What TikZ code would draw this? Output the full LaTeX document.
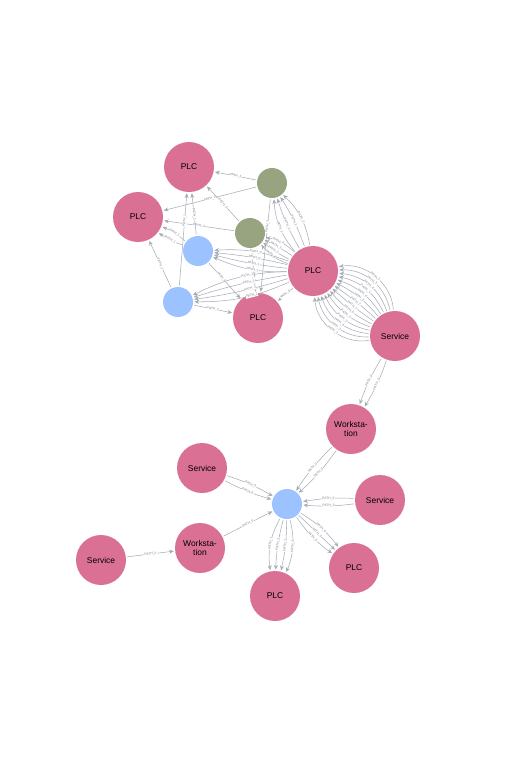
\documentclass[tikz,border=0pt]{standalone}
\usepackage{fontspec}
\setmainfont{Liberation Sans}
\usepackage{xcolor}
\usepackage{tikz}
\usetikzlibrary{arrows.meta}
\definecolor{nodepink}{HTML}{DA7194}
\definecolor{hostblue}{HTML}{9CC3FF}
\definecolor{zonegreen}{HTML}{98A37F}
\definecolor{relgray}{HTML}{A5ABB6}
\definecolor{taggray}{HTML}{7E838C}
\newcommand{\pathlbl}[1]{PATH\_#1}

\begin{document}
\begin{tikzpicture}[x=0.03cm, y=-0.03cm, font=\fontsize{7.2}{7.6}\selectfont, plc/.style={circle, fill=nodepink, minimum size=1.5cm, inner sep=0pt, align=center}, host/.style={circle, fill=hostblue, minimum size=0.9cm, inner sep=0pt}, zone/.style={circle, fill=zonegreen, minimum size=0.9cm, inner sep=0pt}, rel/.style={-{Stealth[length=4pt, width=3.4pt]}, draw=relgray, line width=0.45pt, shorten >=1pt, shorten <=1pt}, tag/.style={font=\fontsize{2.8}{3}\selectfont, text=taggray, sloped, midway, fill=white, inner sep=0.3pt}]
\useasboundingbox (0,0) rectangle (507,777);
% upper cluster
\node[plc] (plcA) at (189,167) {PLC};
\node[plc] (plcB) at (138,217) {PLC};
\node[plc] (plcC) at (313,271) {PLC};
\node[plc] (plcD) at (258,318) {PLC};
\node[zone] (zoneA) at (272,183) {};
\node[zone] (zoneB) at (250,233) {};
\node[host] (hostA) at (198,251) {};
\node[host] (hostB) at (178,302) {};
\node[plc] (svcA) at (395,336) {Service};
\node[plc] (wsA) at (351,429) {Worksta-\\tion};
% lower cluster
\node[host] (hostC) at (287,504) {};
\node[plc] (svcB) at (202,468) {Service};
\node[plc] (svcC) at (380,500) {Service};
\node[plc] (wsB) at (200,548) {Worksta-\\tion};
\node[plc] (svcD) at (101,560) {Service};
\node[plc] (plcE) at (275,596) {PLC};
\node[plc] (plcF) at (354,568) {PLC};

\draw[rel] (zoneA) -- node[tag] {\pathlbl{3}} (plcA);
\draw[rel] (zoneA) -- node[tag] {\pathlbl{3}} (plcB);
\draw[rel] (zoneA) -- node[tag, pos=0.3] {\pathlbl{3}} (plcD);
\draw[rel] (zoneB) -- node[tag] {\pathlbl{3}} (plcA);
\draw[rel] (zoneB) -- node[tag] {\pathlbl{3}} (plcB);
\draw[rel] (zoneB) -- node[tag, pos=0.6] {\pathlbl{3}} (plcD);
\draw[rel] (hostA) -- node[tag] {\pathlbl{1}} (plcA);
\foreach \b in {-8,8}
  \draw[rel] (hostA) to[bend left=\b] node[tag] {\pathlbl{1}} (plcB);
\draw[rel] (hostA) -- node[tag, pos=0.4] {\pathlbl{2}} (plcD);
\draw[rel] (hostB) -- node[tag, pos=0.7] {\pathlbl{1}} (plcA);
\draw[rel] (hostB) -- node[tag] {\pathlbl{1}} (plcB);
\draw[rel] (hostB) -- node[tag] {\pathlbl{2}} (plcD);
\foreach \b/\n in {-18/2,-6/1,6/2,18/1}
  \draw[rel] (plcC) to[bend left=\b] node[tag] {\pathlbl{\n}} (zoneA);
\foreach \b/\n in {-15/4,-5/3,5/2,15/1}
  \draw[rel] (plcC) to[bend left=\b] node[tag, pos=0.6] {\pathlbl{\n}} (zoneB);
\foreach \b/\n in {-12/0,-4/0,4/1,12/1}
  \draw[rel] (plcC) to[bend left=\b] node[tag, pos=0.45] {\pathlbl{\n}} (hostA);
\foreach \b/\n in {-12/1,-4/1,4/2,12/2}
  \draw[rel] (plcC) to[bend left=\b] node[tag, pos=0.4] {\pathlbl{\n}} (hostB);
\draw[rel] (plcC) -- node[tag] {\pathlbl{0}} (plcD);
% service bundle
\foreach \i/\n in {0/2,1/3,2/4,3/1,4/4,5/3,6/2,7/1,8/0,9/2,10/3,11/4,12/3,13/2}
  \draw[rel] (svcA) to[bend left={-48+\i*7.38}] node[tag] {\pathlbl{\n}} (plcC);
\foreach \b in {-6,6}
  \draw[rel] (svcA) to[bend left=\b] node[tag] {\pathlbl{0}} (wsA);
\foreach \b in {-6,6}
  \draw[rel] (wsA) to[bend left=\b] node[tag] {\pathlbl{0}} (hostC);
\foreach \b in {-6,6}
  \draw[rel] (svcB) to[bend left=\b] node[tag] {\pathlbl{0}} (hostC);
\foreach \b in {-6,6}
  \draw[rel] (svcC) to[bend left=\b] node[tag] {\pathlbl{0}} (hostC);
\draw[rel] (wsB) -- node[tag] {\pathlbl{0}} (hostC);
\draw[rel] (svcD) -- node[tag] {\pathlbl{0}} (wsB);
\foreach \b/\n in {-18/1,-6/2,6/3,18/4}
  \draw[rel] (hostC) to[bend left=\b] node[tag] {\pathlbl{\n}} (plcE);
\foreach \b in {-10,0,10}
  \draw[rel] (hostC) to[bend left=\b] node[tag] {\pathlbl{0}} (plcF);
\end{tikzpicture}
\end{document}
